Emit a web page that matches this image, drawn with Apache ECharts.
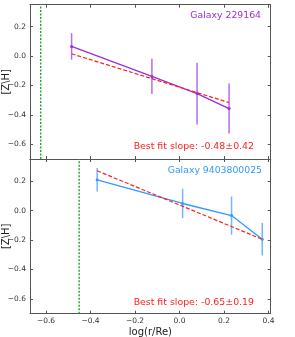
<!DOCTYPE html>
<html><head><meta charset="utf-8">
<script src="https://cdn.jsdelivr.net/npm/echarts@6/dist/echarts.min.js"></script>
<style>html,body{margin:0;padding:0;background:#fff}#c{width:295px;height:337px}</style>
</head><body><div id="c"></div>
<script>
// Top panel: Galaxy 229164
const topX = [-0.485, -0.124, 0.079, 0.223];
const topY = [0.066, -0.138, -0.255, -0.357];
const topErr = [0.09, 0.12, 0.21, 0.17];
const topFitX = [-0.485, 0.223];
const topFitY = [0.016, -0.316];
const topGuide = -0.624;
// Bottom panel: Galaxy 9403800025
const botX = [-0.370, 0.014, 0.234, 0.372];
const botY = [0.209, 0.048, -0.034, -0.195];
const botErr = [0.08, 0.10, 0.13, 0.11];
const botFitX = [-0.370, 0.372];
const botFitY = [0.27, -0.195];
const botGuide = -0.451;
// ticks
const xTicks = [-0.6, -0.4, -0.2, 0.0, 0.2, 0.4];
const yTicks = [-0.6, -0.4, -0.2, 0.0, 0.2];
const xRange = [-0.672, 0.41];
const yRange = [-0.7, 0.35];

const purple = '#9A2EDB', blue = '#3399FF', red = '#FF2020', green = '#22A22A';
const axisCol = '#555';
const fmt = v => (v < 0 ? '\u2212' : '') + Math.abs(v).toFixed(1);
const font = 'DejaVu Sans';

function xAx(grid, pos, labels) {
  return {type:'value', gridIndex:grid, position:pos, min:xRange[0], max:xRange[1],
    axisLine:{show:true,onZero:false,lineStyle:{color:axisCol,width:1}},
    axisTick:{show:true,inside:true,length:3,customValues:xTicks,lineStyle:{color:axisCol}},
    axisLabel:{show:labels,customValues:xTicks,formatter:fmt,fontSize:7.5,color:'#333',fontFamily:font,margin:3},
    splitLine:{show:false},
    name: labels ? 'log(r/Re)' : '', nameLocation:'middle', nameGap:14, nameMoveOverlap:false,
    nameTextStyle:{fontSize:10,color:'#222',fontFamily:font}};
}
function yAx(grid, pos, labels) {
  return {type:'value', gridIndex:grid, position:pos, min:yRange[0], max:yRange[1],
    axisLine:{show:true,onZero:false,lineStyle:{color:axisCol,width:1}},
    axisTick:{show:true,inside:true,length:3,customValues:yTicks,lineStyle:{color:axisCol}},
    axisLabel:{show:labels,customValues:yTicks,formatter:fmt,fontSize:7.5,color:'#333',fontFamily:font,margin:4},
    splitLine:{show:false},
    name: labels ? '[Z\\H]' : '', nameLocation:'middle', nameGap:19, nameMoveOverlap:false,
    nameTextStyle:{fontSize:10,color:'#222',fontFamily:font}};
}
function errSeries(idx, xs, ys, es, col) {
  return {type:'custom', xAxisIndex:idx, yAxisIndex:idx, z:3,
    data: xs.map((x,i)=>[x, ys[i]-es[i], ys[i]+es[i]]),
    renderItem:(p, api)=>{
      const a = api.coord([api.value(0), api.value(1)]);
      const b = api.coord([api.value(0), api.value(2)]);
      return {type:'line', shape:{x1:a[0],y1:a[1],x2:b[0],y2:b[1]},
        style:{stroke:col, lineWidth:1.5, opacity:0.7}};
    }};
}
function guideSeries(idx, x) {
  return {type:'custom', xAxisIndex:idx, yAxisIndex:idx, z:2,
    data: [[x, yRange[0], yRange[1]]],
    renderItem:(p, api)=>{
      const a = api.coord([api.value(0), api.value(1)]);
      const b = api.coord([api.value(0), api.value(2)]);
      return {type:'line', shape:{x1:a[0],y1:a[1],x2:a[0],y2:b[1]},
        style:{stroke:green, lineWidth:1.4, lineDash:[2,1.5], opacity:1}};
    }};
}
function lineSeries(idx, xs, ys, col) {
  return {type:'line', xAxisIndex:idx, yAxisIndex:idx, z:4,
    data: xs.map((x,i)=>[x, ys[i]]), symbol:'circle', symbolSize:3,
    itemStyle:{color:col}, lineStyle:{color:col, width:1.3}};
}
function fitSeries(idx, xs, ys) {
  return {type:'line', xAxisIndex:idx, yAxisIndex:idx, z:5,
    data: xs.map((x,i)=>[x, ys[i]]), symbol:'none',
    lineStyle:{color:red, width:1.2, type:[4,2]}};
}

const chart = echarts.init(document.getElementById('c'), null, {renderer:'canvas'});
chart.setOption({
  animation:false,
  grid:[
    {left:30, top:4.7, width:240.7, height:154.3, containLabel:false, outerBoundsMode:'none'},
    {left:30, top:159, width:240.7, height:154.7, containLabel:false, outerBoundsMode:'none'}
  ],
  xAxis:[xAx(0,'bottom',false), xAx(1,'bottom',true), xAx(0,'top',false), xAx(1,'top',false)],
  yAxis:[yAx(0,'left',true), yAx(1,'left',true), yAx(0,'right',false), yAx(1,'right',false)],
  title:[
    {text:'Galaxy 229164', right:29, top:6, textStyle:{fontSize:9.3,fontWeight:'normal',color:purple,fontFamily:font}},
    {text:'Best fit slope: -0.48\u00b10.42', right:36, top:137.5, textStyle:{fontSize:9.4,fontWeight:'normal',color:red,fontFamily:font}},
    {text:'Galaxy 9403800025', right:28, top:161, textStyle:{fontSize:9.3,fontWeight:'normal',color:blue,fontFamily:font}},
    {text:'Best fit slope: -0.65\u00b10.19', right:36, top:293, textStyle:{fontSize:9.4,fontWeight:'normal',color:red,fontFamily:font}}
  ],
  series:[
    guideSeries(0, topGuide),
    errSeries(0, topX, topY, topErr, purple),
    lineSeries(0, topX, topY, purple),
    fitSeries(0, topFitX, topFitY),
    guideSeries(1, botGuide),
    errSeries(1, botX, botY, botErr, blue),
    lineSeries(1, botX, botY, blue),
    fitSeries(1, botFitX, botFitY)
  ]
});
</script></body></html>
